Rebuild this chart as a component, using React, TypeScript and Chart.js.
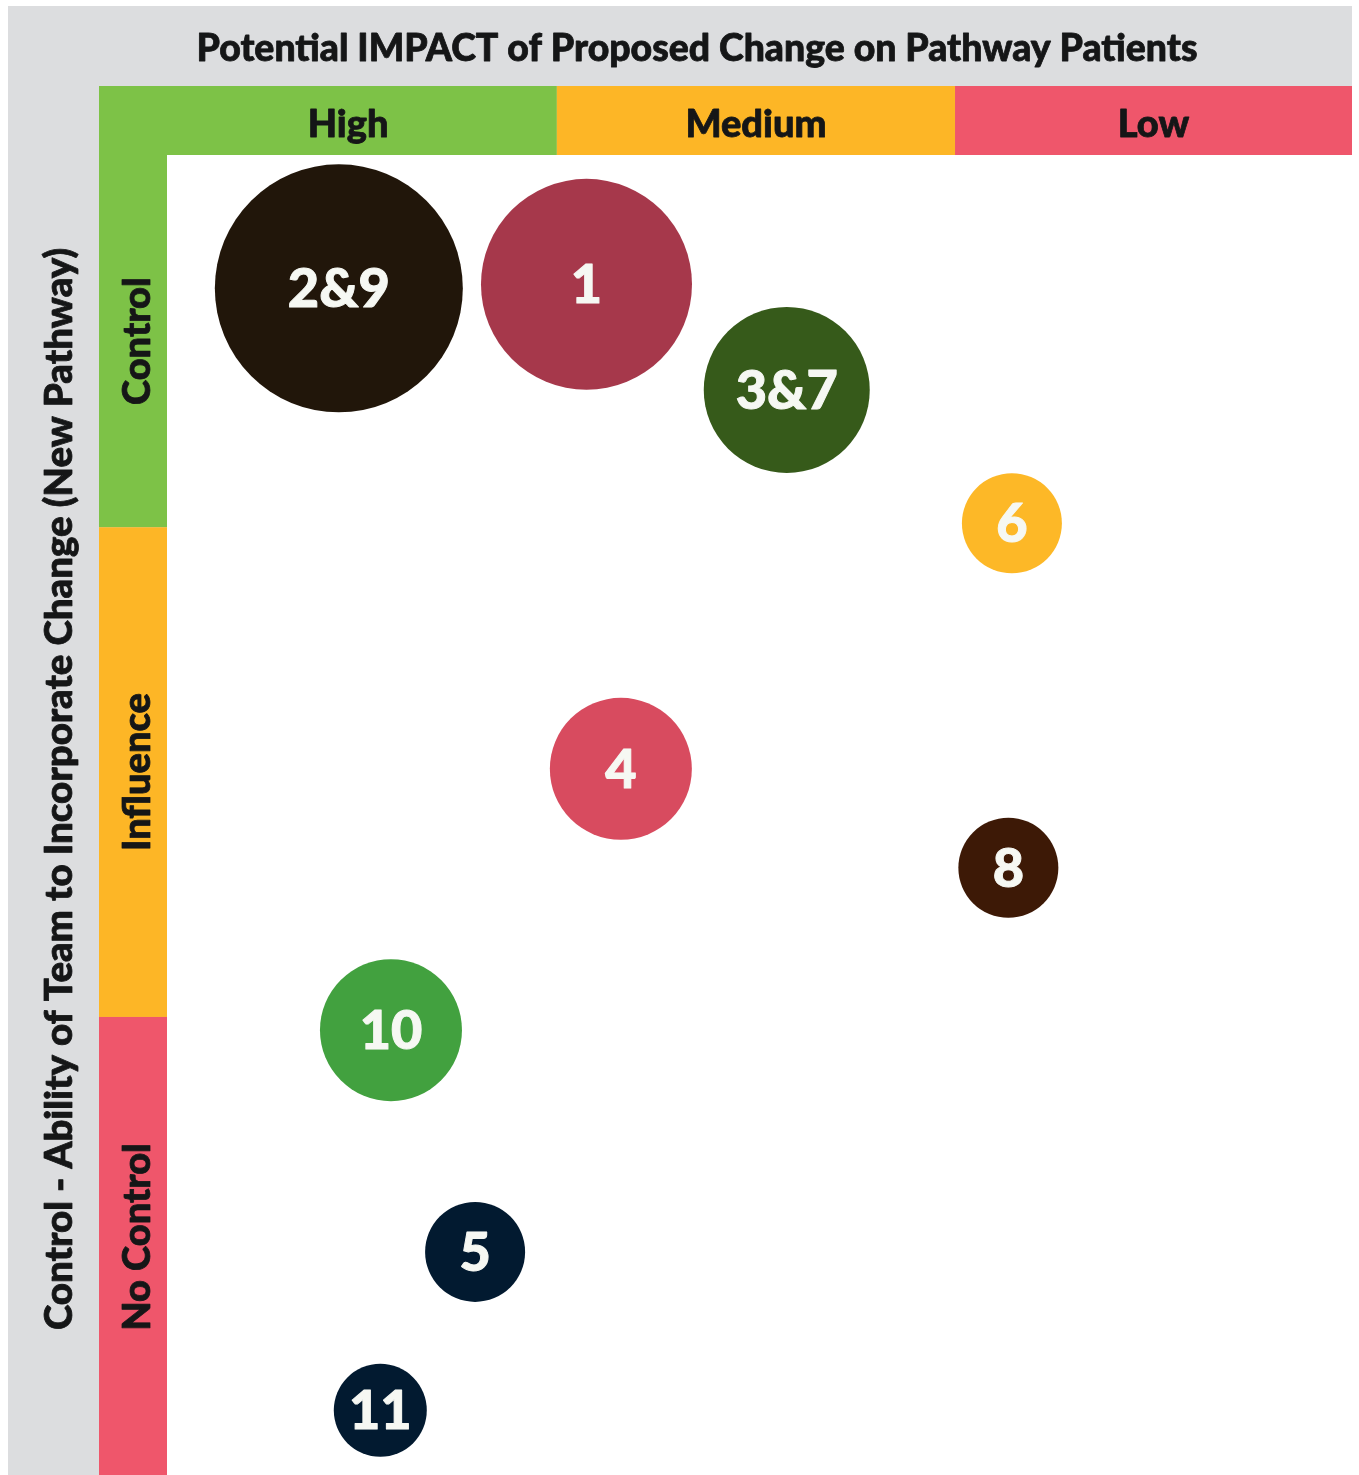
import React, { useEffect, useRef } from "react";
import { Chart, registerables } from "chart.js";

Chart.register(...registerables);

const chartTitle = "Potential IMPACT of Proposed Change on Pathway Patients";
const yAxisTitle = "Control - Ability of Team to Incorporate Change (New Pathway)";

const impactLevels = ["High", "Medium", "Low"];
const impactEdges = [0, 3.29, 6.65, 10];
const impactColors = ["#7dc247", "#fdb626", "#ef566b"];

const controlLevels = ["Control", "Influence", "No Control"];
const controlEdges = [10, 7.18, 3.47, 0];
const controlColors = ["#7dc247", "#fdb626", "#ef566b"];

const bubbleLabels = ["2&9", "1", "3&7", "6", "4", "8", "10", "5", "11"];
const bubbleX = [1.45, 3.54, 5.23, 7.13, 3.83, 7.1, 1.89, 2.6, 1.8];
const bubbleY = [8.99, 9.02, 8.22, 7.21, 5.35, 4.6, 3.37, 1.69, 0.49];
const bubbleR = [124, 105.5, 83, 50, 71, 50, 71, 50, 46.5];
const bubbleColors = [
  "#21160a",
  "#a6384b",
  "#365a1a",
  "#fdb827",
  "#d84b5f",
  "#3d1906",
  "#42a13f",
  "#021a30",
  "#021a30",
];

const FONT = "Lato, 'Open Sans', sans-serif";
const BAND = 68;

function boldText(ctx: any, text: string, x: number, y: number) {
  ctx.fillText(text, x, y);
  ctx.strokeText(text, x, y);
}

const backgroundPlugin = {
  id: "matrixBackground",
  beforeDraw(chart: any) {
    const { ctx, chartArea, scales, width, height } = chart;
    const xs = scales.x;
    const ys = scales.y;
    ctx.save();
    ctx.fillStyle = "#dcdddf";
    ctx.fillRect(0, 0, width, height);
    ctx.fillStyle = "#ffffff";
    ctx.fillRect(chartArea.left, chartArea.top, chartArea.right - chartArea.left, chartArea.bottom - chartArea.top);

    const bandLeft = chartArea.left - BAND;
    const bandTop = chartArea.top - BAND - 1;

    ctx.font = `900 38px ${FONT}`;
    ctx.textAlign = "center";
    ctx.textBaseline = "alphabetic";
    ctx.strokeStyle = "#151617";
    ctx.lineWidth = 0.8;
    ctx.lineJoin = "round";

    // column bands
    for (let i = 0; i < impactLevels.length; i++) {
      const x0 = i === 0 ? bandLeft : xs.getPixelForValue(impactEdges[i]);
      const x1 = xs.getPixelForValue(impactEdges[i + 1]);
      ctx.fillStyle = impactColors[i];
      ctx.fillRect(x0, bandTop, x1 - x0, chartArea.top - bandTop);
      ctx.fillStyle = "#151617";
      const cx = i === 0 ? x0 + (x1 - x0) * 0.544 : (x0 + x1) / 2;
      boldText(ctx, impactLevels[i], cx, bandTop + 51);
    }

    // row bands
    for (let i = 0; i < controlLevels.length; i++) {
      const y0 = i === 0 ? chartArea.top : ys.getPixelForValue(controlEdges[i]);
      const y1 = ys.getPixelForValue(controlEdges[i + 1]);
      ctx.fillStyle = controlColors[i];
      ctx.fillRect(bandLeft, y0, BAND, y1 - y0);
      ctx.save();
      const shift = i === controlLevels.length - 1 ? -9 : 0;
      ctx.translate(bandLeft + 51, (y0 + y1) / 2 + shift);
      ctx.rotate(-Math.PI / 2);
      ctx.fillStyle = "#151617";
      boldText(ctx, controlLevels[i], 0, 0);
      ctx.restore();
    }

    // title
    ctx.fillStyle = "#151617";
    ctx.font = `900 37.4px ${FONT}`;
    boldText(ctx, chartTitle, 689, 55);

    // y axis title
    ctx.font = `900 38.4px ${FONT}`;
    ctx.save();
    ctx.translate(bandLeft - 27, 783);
    ctx.rotate(-Math.PI / 2);
    boldText(ctx, yAxisTitle, 0, 0);
    ctx.restore();
    ctx.restore();
  },
};

const labelPlugin = {
  id: "bubbleLabels",
  afterDatasetsDraw(chart: any) {
    const { ctx } = chart;
    const meta = chart.getDatasetMeta(0);
    ctx.save();
    ctx.font = `900 54px ${FONT}`;
    ctx.textAlign = "center";
    ctx.textBaseline = "alphabetic";
    ctx.fillStyle = "#f6f8f3";
    ctx.strokeStyle = "#f6f8f3";
    ctx.lineWidth = 1;
    ctx.lineJoin = "round";
    meta.data.forEach((el: any, i: number) => {
      boldText(ctx, bubbleLabels[i], el.x, el.y + 19);
    });
    ctx.restore();
  },
};

export default function App() {
  const ref = useRef<HTMLCanvasElement>(null);
  useEffect(() => {
    if (!ref.current) return;
    const chart = new Chart(ref.current, {
      type: "bubble",
      data: {
        datasets: [
          {
            label: "Changes",
            data: bubbleLabels.map((_, i) => ({ x: bubbleX[i], y: bubbleY[i], r: bubbleR[i] })),
            backgroundColor: bubbleColors,
            borderWidth: 0,
            hoverRadius: 0,
            clip: false as any,
          },
        ],
      },
      options: {
        animation: false,
        responsive: false,
        devicePixelRatio: 1,
        layout: { autoPadding: false, padding: { left: 159, top: 149, right: 0, bottom: 0 } },
        scales: {
          x: { type: "linear", min: 0, max: 10, display: false },
          y: { type: "linear", min: 0, max: 10, display: false },
        },
        plugins: {
          legend: { display: false },
          tooltip: { enabled: false },
          title: { display: false },
        },
      },
      plugins: [backgroundPlugin, labelPlugin],
    });
    return () => chart.destroy();
  }, []);
  return (
    <div style={{ position: "absolute", left: 8, top: 6, width: 1344, height: 1469 }}>
      <canvas ref={ref} width={1344} height={1469} style={{ display: "block" }} />
    </div>
  );
}
